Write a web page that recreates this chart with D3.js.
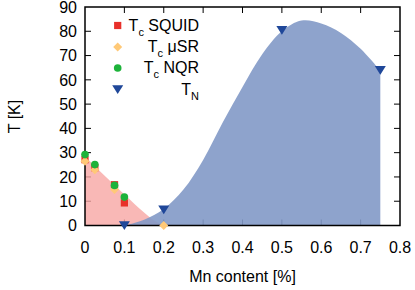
<!DOCTYPE html>
<html><head><meta charset="utf-8">
<script src="https://cdn.jsdelivr.net/npm/d3@7"></script>
<style>body{margin:0;background:#fff}svg{display:block;font-family:"Liberation Sans",Arial,sans-serif}</style>
</head><body>
<script>
// Data
const xTicks = [0,0.1,0.2,0.3,0.4,0.5,0.6,0.7,0.8];
const yTicks = [0,10,20,30,40,50,60,70,80,90];
const tcSquid = [[0,27.1],[0.025,23.8],[0.075,16.8],[0.1,9.3]];
const tcMuSR  = [[0,26.5],[0.025,23],[0.075,14.8],[0.2,0]];
const tcNQR   = [[0,29.2],[0.025,25.1],[0.075,16.5],[0.1,11.7]];
const tN      = [[0.1,0],[0.2,6.5],[0.5,80.5],[0.75,64]];
const scBoundary = [[0,28.5],[0.04,22],[0.1,12.8],[0.15,5.4],[0.18,1.6],[0.2,0]];
const afmBoundary = [[0.1,0],[0.15,2.4],[0.2,6.8],[0.25,14.8],[0.3,27],[0.35,42.5],[0.4,57],[0.45,70.5],[0.5,80],[0.55,84.4],[0.6,83.2],[0.65,79.3],[0.7,72.8],[0.75,63.8]];
const legendLabels = [["T","c"," SQUID"],["T","c"," \u03bcSR"],["T","c"," NQR"],["T","N",""]];

const W=415,H=290, L=85, R=400, T=7, B=225.5;
const x = d3.scaleLinear().domain([0,0.8]).range([L,R]);
const y = d3.scaleLinear().domain([0,90]).range([B,T]);
const svg = d3.select("body").append("svg").attr("width",W).attr("height",H);

// ticks (inside) drawn under fills
const tk = svg.append("g").attr("stroke","#000").attr("stroke-width",1);
xTicks.slice(1,-1).forEach(v=>{
  tk.append("line").attr("x1",x(v)).attr("x2",x(v)).attr("y1",B).attr("y2",B-6);
  tk.append("line").attr("x1",x(v)).attr("x2",x(v)).attr("y1",T).attr("y2",T+6);
});
yTicks.slice(1,-1).forEach(v=>{
  tk.append("line").attr("x1",L).attr("x2",L+6).attr("y1",y(v)).attr("y2",y(v));
  tk.append("line").attr("x1",R).attr("x2",R-6).attr("y1",y(v)).attr("y2",y(v));
});

const area = d3.area().x(d=>x(d[0])).y0(y(0)).y1(d=>y(d[1]));
svg.append("path").datum(scBoundary).attr("d",area.curve(d3.curveMonotoneX)).attr("fill","#f7a6a4").attr("fill-opacity",0.8);
svg.append("path").datum(afmBoundary).attr("d",area.curve(d3.curveCatmullRom.alpha(0.5))).attr("fill","#8299c6").attr("fill-opacity",0.9);

// frame
svg.append("rect").attr("x",L).attr("y",T).attr("width",R-L).attr("height",B-T)
  .attr("fill","none").attr("stroke","#000").attr("stroke-width",1.5);

// tick labels
const fs = 16;
svg.append("g").selectAll("text").data(xTicks).join("text")
  .attr("x",d=>x(d)).attr("y",253).attr("text-anchor","middle").attr("font-size",fs)
  .text(d=>d===0?"0":d3.format(".1f")(d));
svg.append("g").selectAll("text").data(yTicks).join("text")
  .attr("x",77).attr("y",d=>y(d)+5.7).attr("text-anchor","end").attr("font-size",fs)
  .text(d=>d);
svg.append("text").attr("x",(L+R)/2).attr("y",282).attr("text-anchor","middle").attr("font-size",fs).text("Mn content [%]");
svg.append("text").attr("transform","translate(20,116.5) rotate(-90)").attr("text-anchor","middle").attr("font-size",fs).text("T [K]");

// markers
const cols = {sq:"#e8302a", mu:"#ffc977", nqr:"#1db33a", tn:"#1f4799"};
const sym = (type,size)=>d3.symbol().type(type).size(size)();
const triDown = s => `M${-s/2},${-s*0.38}L${s/2},${-s*0.38}L0,${s*0.42}Z`;
const diamond = s => `M0,${-s/2}L${s/2},0L0,${s/2}L${-s/2},0Z`;
function pts(data, dstr, col){
  svg.append("g").selectAll("path").data(data).join("path")
    .attr("transform",d=>`translate(${x(d[0])},${y(d[1])})`).attr("d",dstr).attr("fill",col);
}
pts(tcSquid, sym(d3.symbolSquare,52), cols.sq);
pts(tcMuSR, diamond(9), cols.mu);
pts(tcNQR, sym(d3.symbolCircle,46), cols.nqr);
pts(tN, triDown(11), cols.tn);

// legend
const lg = svg.append("g");
const lgSyms = [[sym(d3.symbolSquare,52),cols.sq],[diamond(9),cols.mu],[sym(d3.symbolCircle,46),cols.nqr],[triDown(11),cols.tn]];
const rows = [25.5,47,68,89.5];
legendLabels.forEach((lab,i)=>{
  lg.append("path").attr("transform",`translate(117.7,${rows[i]})`).attr("d",lgSyms[i][0]).attr("fill",lgSyms[i][1]);
  const t = lg.append("text").attr("x",199).attr("y",rows[i]+5).attr("text-anchor","end").attr("font-size",fs);
  t.append("tspan").text(lab[0]);
  t.append("tspan").attr("dy",5).attr("font-size",11).text(lab[1]);
  if(lab[2]) t.append("tspan").attr("dy",-5).text(lab[2]);
});
</script>
</body></html>
